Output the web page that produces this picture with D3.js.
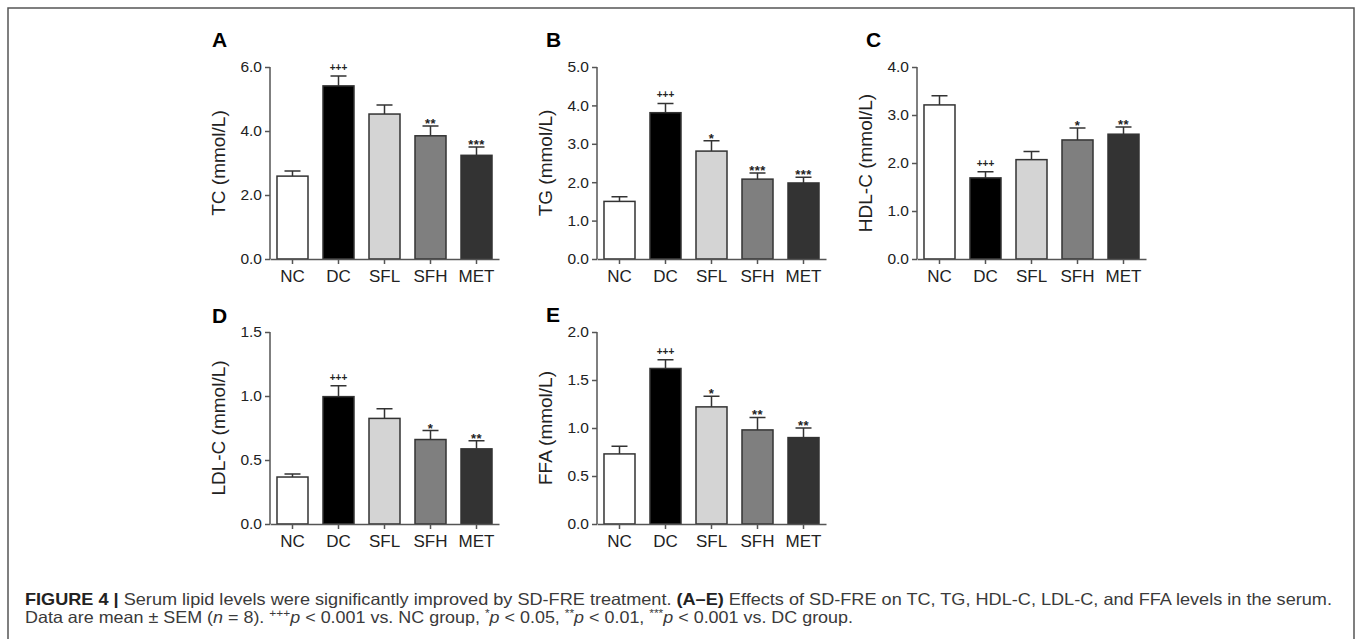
<!DOCTYPE html>
<html lang="en">
<head>
<meta charset="utf-8">
<title>Figure 4</title>
<script src="https://cdn.jsdelivr.net/npm/d3@7/dist/d3.min.js"></script>
<style type="text/css">
  body { margin: 0; background: #fff; }
  svg { display: block; }
</style>
</head>
<body>
<script type="text/javascript">
// groups shared by every panel
var groups = ["NC", "DC", "SFL", "SFH", "MET"];

// A - TC
var tcMean = [2.59, 5.41, 4.53, 3.85, 3.24];
var tcSem = [0.16, 0.31, 0.28, 0.31, 0.26];
var tcSig = ["", "+++", "", "**", "***"];
var tcTicks = [0, 2, 4, 6];

// B - TG
var tgMean = [1.50, 3.81, 2.81, 2.08, 1.98];
var tgSem = [0.12, 0.24, 0.27, 0.16, 0.15];
var tgSig = ["", "+++", "*", "***", "***"];
var tgTicks = [0, 1, 2, 3, 4, 5];

// C - HDL-C
var hdlMean = [3.21, 1.69, 2.07, 2.48, 2.60];
var hdlSem = [0.19, 0.13, 0.17, 0.25, 0.15];
var hdlSig = ["", "+++", "", "*", "**"];
var hdlTicks = [0, 1, 2, 3, 4];

// D - LDL-C
var ldlMean = [0.367, 0.995, 0.825, 0.66, 0.587];
var ldlSem = [0.023, 0.085, 0.075, 0.07, 0.063];
var ldlSig = ["", "+++", "", "*", "**"];
var ldlTicks = [0, 0.5, 1.0, 1.5];

// E - FFA
var ffaMean = [0.73, 1.62, 1.22, 0.98, 0.90];
var ffaSem = [0.08, 0.09, 0.11, 0.13, 0.10];
var ffaSig = ["", "+++", "*", "**", "**"];
var ffaTicks = [0, 0.5, 1.0, 1.5, 2.0];

var w = 1357, h = 639;
var fills = ["#ffffff", "#000000", "#d4d4d4", "#7f7f7f", "#333333"];
var font = "'Liberation Sans', Arial, Helvetica, sans-serif";

var svg = d3.select("body").append("svg")
  .attr("width", w)
  .attr("height", h);

// frame (open at the bottom)
svg.append("path")
  .attr("d", "M8," + h + "V8H1354V" + h)
  .attr("fill", "none")
  .attr("stroke", "#555")
  .attr("stroke-width", 1.5);

var panels = [
  {label: "A", lx: 212, ly: 47, x: 270, y: 67, title: "TC (mmol/L)", mean: tcMean, sem: tcSem, sig: tcSig, ticks: tcTicks},
  {label: "B", lx: 546, ly: 47, x: 597, y: 67, title: "TG (mmol/L)", mean: tgMean, sem: tgSem, sig: tgSig, ticks: tgTicks},
  {label: "C", lx: 866, ly: 47, x: 917, y: 67, title: "HDL-C (mmol/L)", mean: hdlMean, sem: hdlSem, sig: hdlSig, ticks: hdlTicks},
  {label: "D", lx: 212, ly: 323, x: 270, y: 332, title: "LDL-C (mmol/L)", mean: ldlMean, sem: ldlSem, sig: ldlSig, ticks: ldlTicks},
  {label: "E", lx: 546, ly: 322, x: 597, y: 332, title: "FFA (mmol/L)", mean: ffaMean, sem: ffaSem, sig: ffaSig, ticks: ffaTicks}
];

var ph = 192, pw = 229;

panels.forEach(function(p) {
  var g = svg.append("g").attr("transform", "translate(" + p.x + "," + p.y + ")");

  var xScale = d3.scaleBand()
    .domain(groups)
    .range([0, pw])
    .paddingInner(0.326)
    .paddingOuter(0.152);
  var yScale = d3.scaleLinear()
    .domain([0, d3.max(p.ticks)])
    .range([ph, 0]);

  var rows = groups.map(function(k, i) {
    return {k: k, m: p.mean[i], s: p.sem[i], sig: p.sig[i], fill: fills[i]};
  });

  // error bars (upper half only)
  g.selectAll(".err")
    .data(rows)
    .enter()
    .append("path")
    .attr("d", function(d) {
      var cx = xScale(d.k) + xScale.bandwidth() / 2;
      var top = yScale(d.m + d.s);
      return "M" + cx + "," + yScale(d.m) + "V" + top + "M" + (cx - 8) + "," + top + "H" + (cx + 8);
    })
    .attr("fill", "none")
    .attr("stroke", "#333")
    .attr("stroke-width", 1.5);

  g.selectAll("rect")
    .data(rows)
    .enter()
    .append("rect")
    .attr("x", function(d) { return xScale(d.k); })
    .attr("y", function(d) { return yScale(d.m); })
    .attr("width", xScale.bandwidth())
    .attr("height", function(d) { return ph - yScale(d.m); })
    .attr("fill", function(d) { return d.fill; })
    .attr("stroke", "#333")
    .attr("stroke-width", 1.5);

  // significance marks
  g.selectAll(".sig")
    .data(rows.filter(function(d) { return d.sig; }))
    .enter()
    .append("text")
    .text(function(d) { return d.sig; })
    .attr("x", function(d) { return xScale(d.k) + xScale.bandwidth() / 2; })
    .attr("y", function(d) {
      var top = yScale(d.m + d.s);
      return d.sig.charAt(0) === "+" ? top - 5 : top + 2;
    })
    .attr("text-anchor", "middle")
    .attr("font-family", font)
    .attr("font-weight", "bold")
    .attr("font-size", function(d) { return d.sig.charAt(0) === "+" ? "10px" : "13px"; })
    .attr("letter-spacing", function(d) { return d.sig.charAt(0) === "+" ? "0px" : "0.5px"; })
    .attr("fill", "#222");

  var yAxis = d3.axisLeft(yScale)
    .tickValues(p.ticks)
    .tickFormat(d3.format(".1f"))
    .tickSize(5)
    .tickPadding(3);
  var xAxis = d3.axisBottom(xScale)
    .tickSize(5)
    .tickPadding(6)
    .tickSizeOuter(0);

  var ya = g.append("g").call(yAxis);
  var xa = g.append("g").attr("transform", "translate(0," + ph + ")").call(xAxis);
  [ya, xa].forEach(function(a) {
    a.selectAll("path, line").attr("stroke", "#555").attr("stroke-width", 1.5);
    a.selectAll("text").attr("font-family", font).attr("fill", "#222");
  });
  ya.select(".domain").attr("d", "M0," + ph + "V0");
  ya.selectAll("text").attr("font-size", "15.5px");
  xa.selectAll("text").attr("font-size", "17px");

  // y title
  g.append("text")
    .text(p.title)
    .attr("transform", "translate(-45," + (ph / 2) + ") rotate(-90)")
    .attr("text-anchor", "middle")
    .attr("font-family", font)
    .attr("font-size", "19px")
    .attr("fill", "#222");

  // panel letter
  svg.append("text")
    .text(p.label)
    .attr("x", p.lx)
    .attr("y", p.ly)
    .attr("font-family", font)
    .attr("font-weight", "bold")
    .attr("font-size", "21px")
    .attr("fill", "#000");
});

// caption
var capFont = "'Liberation Sans Narrow', 'Liberation Sans', Arial, sans-serif";
var cap1 = svg.append("text")
  .attr("x", 25)
  .attr("y", 605)
  .attr("font-family", capFont)
  .attr("font-size", "16.5px")
  .attr("fill", "#3a3a3a")
  .attr("textLength", 1307)
  .attr("lengthAdjust", "spacingAndGlyphs");
cap1.append("tspan").attr("font-weight", "bold").attr("fill", "#222").text("FIGURE 4 |");
cap1.append("tspan").text(" Serum lipid levels were significantly improved by SD-FRE treatment. ");
cap1.append("tspan").attr("font-weight", "bold").attr("fill", "#222").text("(A\u2013E)");
cap1.append("tspan").text(" Effects of SD-FRE on TC, TG, HDL-C, LDL-C, and FFA levels in the serum.");

var cap2 = svg.append("text")
  .attr("x", 25)
  .attr("y", 623)
  .attr("font-family", capFont)
  .attr("font-size", "16.5px")
  .attr("fill", "#3a3a3a")
  .attr("textLength", 828)
  .attr("lengthAdjust", "spacingAndGlyphs");
var parts = [
  ["Data are mean \u00b1 SEM (", ""],
  ["n", "i"],
  [" = 8). ", ""],
  ["+++", "s"],
  ["p", "i"],
  [" < 0.001 vs. NC group, ", ""],
  ["*", "s"],
  ["p", "i"],
  [" < 0.05, ", ""],
  ["**", "s"],
  ["p", "i"],
  [" < 0.01, ", ""],
  ["***", "s"],
  ["p", "i"],
  [" < 0.001 vs. DC group.", ""]
];
parts.forEach(function(t, i) {
  var ts = cap2.append("tspan").text(t[0]);
  if (t[1] === "i") ts.attr("font-style", "italic");
  if (t[1] === "s") ts.attr("font-size", "11px").attr("dy", -6);
  // back to the baseline after a superscript
  if (i > 0 && parts[i - 1][1] === "s") ts.attr("dy", 6);
});
</script>
</body>
</html>
